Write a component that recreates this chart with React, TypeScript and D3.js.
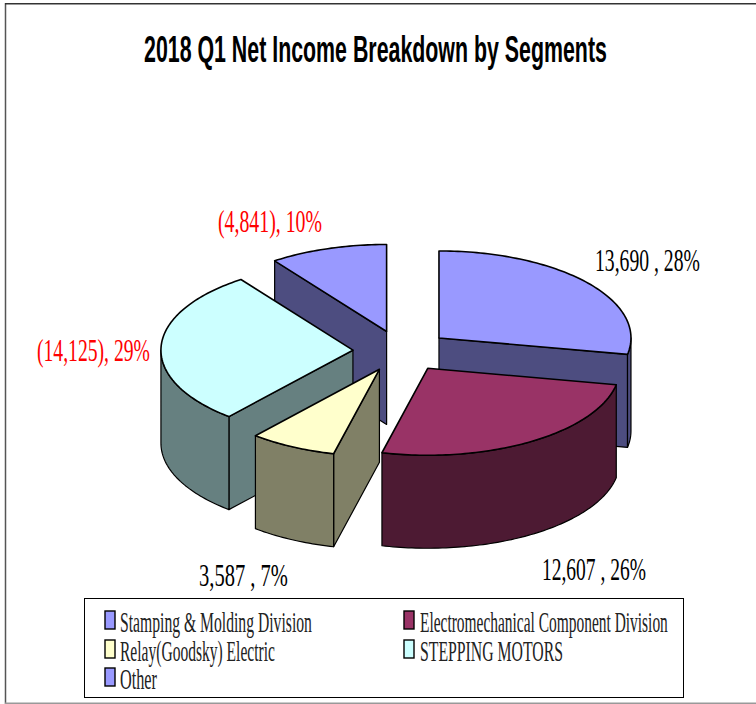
import React, { useLayoutEffect, useRef } from 'react';
import * as d3 from 'd3';

const title = '2018 Q1 Net Income Breakdown by Segments';
const segments = ['Stamping & Molding Division', 'Electromechanical Component Division', 'Relay(Goodsky) Electric', 'STEPPING MOTORS', 'Other'];
const netIncome = [13690, 12607, 3587, -14125, -4841];
const percents = [28, 26, 7, 29, 10];
const topColors = ['#9999ff', '#993366', '#ffffcc', '#ccffff', '#9999ff'];
const sideColors = ['#4d4d80', '#4d1a33', '#808066', '#668080', '#4d4d80'];

// layout of the text
const labelBoxes = [
  { x: 595, y: 271, w: 105 },
  { x: 542, y: 580, w: 104 },
  { x: 199, y: 586, w: 89 },
  { x: 37, y: 361, w: 113 },
  { x: 218, y: 232, w: 104 },
];
const legendBoxes = [
  { x: 105, y: 611, tx: 120, w: 192 },
  { x: 404, y: 611, tx: 420, w: 248 },
  { x: 105, y: 640, tx: 120, w: 155 },
  { x: 404, y: 640, tx: 420, w: 143 },
  { x: 105, y: 668, tx: 120, w: 37 },
];

const W = 756;
const H = 704;
const cx = 401.5;
const cy = 351;
const rx = 192;
const ry = 87;
const depth = 93;
const explodeX = 48.6;
const explodeY = 20.5;

const serif = '"Liberation Serif", serif';
const sans = '"Liberation Sans", sans-serif';

const formatNum = d3.format(',');
const pieLayout = d3.pie<number>().value(d => Math.abs(d)).sort(null);
const line = d3.line<[number, number]>().curve(d3.curveLinear);

function rimPoints(x0: number, y0: number, a0: number, a1: number): [number, number][] {
  const n = Math.max(2, Math.ceil(Math.abs(a1 - a0) / 0.02));
  return d3.range(n + 1).map(i => {
    const a = a0 + ((a1 - a0) * i) / n;
    return [x0 + rx * Math.sin(a), y0 - ry * Math.cos(a)] as [number, number];
  });
}

function drop(pts: [number, number][]): [number, number][] {
  return pts.map(p => [p[0], p[1] + depth] as [number, number]);
}

// the reference text is squeezed sideways, so scale each string to its measured width
function FitText({ x, y, width, children, ...rest }: any) {
  const ref = useRef<SVGTextElement>(null);
  useLayoutEffect(() => {
    const el = ref.current;
    if (!el) return;
    const natural = el.getComputedTextLength();
    el.setAttribute('transform', `translate(${x},${y}) scale(${width / natural},1)`);
  });
  return (
    <text ref={ref} transform={`translate(${x},${y})`} {...rest}>
      {children}
    </text>
  );
}

function Slice({ arc, i }: { arc: d3.PieArcDatum<number>; i: number }) {
  const mid = (arc.startAngle + arc.endAngle) / 2;
  const x0 = cx + explodeX * Math.sin(mid);
  const y0 = cy - explodeY * Math.cos(mid);
  const stroke = { stroke: '#000', strokeLinejoin: 'round' as const };

  const wall = (a: number) => {
    const edge: [number, number][] = [[x0, y0], rimPoints(x0, y0, a, a)[0]];
    return line([...edge, ...drop(edge).reverse()]) + 'Z';
  };

  // only the cut faces turned towards the viewer get drawn
  const showStart = Math.sin(arc.startAngle) < -0.01;
  const showEnd = Math.sin(arc.endAngle) > 0.01;

  // the outer wall only shows on the front half of the ellipse
  const from = Math.max(arc.startAngle, Math.PI / 2);
  const to = Math.min(arc.endAngle, (3 * Math.PI) / 2);
  const outer = from < to ? rimPoints(x0, y0, from, to) : null;

  const rim = rimPoints(x0, y0, arc.startAngle, arc.endAngle);
  const top = line([[x0, y0], ...rim]) + 'Z';

  return (
    <g>
      {showStart && <path d={wall(arc.startAngle)} fill={sideColors[i]} strokeWidth={1.2} {...stroke} />}
      {showEnd && <path d={wall(arc.endAngle)} fill={sideColors[i]} strokeWidth={1.2} {...stroke} />}
      {outer && (
        <path d={line([...outer, ...drop(outer).reverse()]) + 'Z'} fill={sideColors[i]} strokeWidth={1.2} {...stroke} />
      )}
      <path d={top} fill={topColors[i]} strokeWidth={1.6} {...stroke} />
    </g>
  );
}

export default function App() {
  const arcs = pieLayout(netIncome);
  // painter's order, back slices first
  const order = [4, 0, 3, 1, 2];

  return (
    <svg width={W} height={H} style={{ position: 'absolute', left: 0, top: 0, background: '#fff' }}>
      <line x1={5.5} x2={5.5} y1={3} y2={H} stroke="#555" strokeWidth={1.5} />
      <line x1={5} x2={W} y1={3.7} y2={3.7} stroke="#333" strokeWidth={1.5} />
      <line x1={5} x2={W} y1={703.3} y2={703.3} stroke="#999" strokeWidth={1.4} />

      <FitText x={144} y={62} width={463} fontFamily={sans} fontWeight="bold" fontSize={37}>
        {title}
      </FitText>

      {order.map(i => (
        <Slice key={i} arc={arcs[i]} i={i} />
      ))}

      {netIncome.map((v, i) => (
        <FitText
          key={segments[i]}
          x={labelBoxes[i].x}
          y={labelBoxes[i].y}
          width={labelBoxes[i].w}
          fontFamily={serif}
          fontSize={32}
          fill={v < 0 ? '#ff0000' : '#000'}
        >
          {v < 0 ? `(${formatNum(-v)}), ${percents[i]}%` : `${formatNum(v)} , ${percents[i]}%`}
        </FitText>
      ))}

      <rect x={84.5} y={598.5} width={599} height={99} fill="#fff" stroke="#000" strokeWidth={1} />
      {segments.map((s, i) => (
        <g key={s}>
          <rect x={legendBoxes[i].x} y={legendBoxes[i].y} width={10} height={18} fill={topColors[i]} stroke="#000" strokeWidth={1.4} />
          <FitText
            x={legendBoxes[i].tx}
            y={legendBoxes[i].y + 21}
            width={legendBoxes[i].w}
            fontFamily={serif}
            fontSize={29}
            fill="#222"
          >
            {s}
          </FitText>
        </g>
      ))}
    </svg>
  );
}
